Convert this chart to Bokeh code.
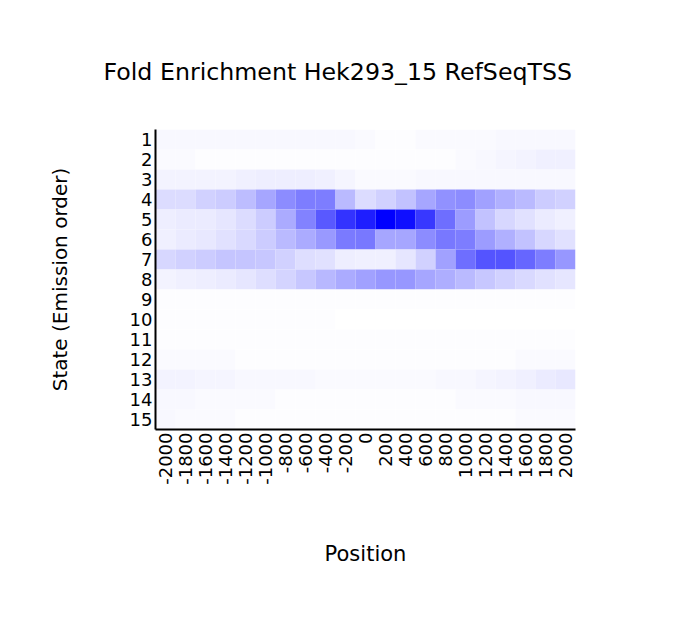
import math
from bokeh.plotting import figure
from bokeh.models import ColumnDataSource, LinearColorMapper, FixedTicker, Range1d
from bokeh.embed import file_html
from bokeh.resources import INLINE

positions = list(range(-2000, 2001, 200))
states = list(range(1, 16))
pos_labels = [str(v) for v in positions]

# Estimated fold-enrichment intensities (0-100 scale), one row per state
state_1 = [3, 3, 3, 3, 3, 3, 3, 3, 3, 3, 2, 1, 1, 2, 2, 2, 2, 3, 3, 3, 3]
state_2 = [2, 2, 1, 1, 1, 1, 1, 1, 1, 1, 1, 1, 1, 1, 1, 2, 3, 4, 5, 6, 6]
state_3 = [5, 5, 5, 5, 6, 7, 7, 7, 6, 4, 2, 2, 2, 3, 3, 3, 3, 3, 3, 3, 3]
state_4 = [14, 14, 18, 20, 26, 35, 45, 51, 51, 27, 14, 18, 24, 35, 43, 45, 37, 31, 27, 20, 18]
state_5 = [7, 8, 8, 10, 14, 20, 33, 49, 65, 80, 88, 100, 94, 78, 57, 39, 24, 16, 12, 8, 6]
state_6 = [6, 8, 9, 12, 15, 20, 27, 33, 40, 52, 53, 35, 35, 45, 53, 51, 39, 31, 24, 16, 12]
state_7 = [16, 18, 20, 23, 23, 22, 18, 13, 12, 7, 6, 6, 10, 18, 37, 57, 67, 67, 60, 51, 41]
state_8 = [5, 6, 7, 8, 10, 13, 17, 22, 28, 33, 37, 41, 41, 35, 32, 27, 22, 18, 15, 12, 10]
state_9 = [1, 1, 1, 1, 1, 1, 1, 1, 1, 1, 1, 1, 1, 1, 1, 1, 1, 1, 1, 1, 1]
state_10 = [1, 1, 1, 1, 1, 1, 1, 1, 1, 0, 0, 0, 0, 0, 0, 0, 0, 0, 0, 0, 0]
state_11 = [1, 1, 1, 1, 1, 1, 1, 1, 1, 1, 1, 1, 1, 1, 1, 1, 1, 1, 1, 1, 1]
state_12 = [2, 2, 2, 2, 1, 1, 1, 1, 1, 1, 1, 1, 1, 1, 1, 1, 1, 1, 2, 2, 2]
state_13 = [5, 5, 4, 4, 3, 3, 3, 3, 2, 2, 2, 2, 2, 2, 3, 3, 4, 5, 6, 8, 9]
state_14 = [3, 3, 2, 2, 2, 2, 1, 1, 1, 1, 1, 1, 1, 1, 1, 2, 2, 2, 3, 3, 3]
state_15 = [3, 2, 2, 2, 1, 1, 1, 1, 1, 1, 1, 1, 1, 1, 1, 1, 1, 1, 2, 2, 2]

rows = [state_1, state_2, state_3, state_4, state_5, state_6, state_7, state_8,
        state_9, state_10, state_11, state_12, state_13, state_14, state_15]

xs, ys, vals = [], [], []
for s, row in zip(states, rows):
    for pos, v in zip(positions, row):
        xs.append(pos)
        ys.append(s)
        vals.append(v)

src = ColumnDataSource(dict(x=xs, y=ys, v=vals))

palette = []
for i in range(256):
    c = round(255 * (1 - i / 255))
    palette.append("#%02x%02x%02x" % (c, c, 255))
mapper = LinearColorMapper(palette=palette, low=0, high=100)

p = figure(width=660, height=600, output_backend="svg", toolbar_location=None,
           x_range=Range1d(-2100, 2100), y_range=Range1d(15.5, 0.5),
           frame_width=420, frame_height=300,
           min_border_left=155, min_border_top=129, min_border_right=85, min_border_bottom=171,
           title="Fold Enrichment Hek293_15 RefSeqTSS")
p.rect(x="x", y="y", width=200, height=1, source=src,
       fill_color={"field": "v", "transform": mapper}, line_color=None)

p.title.text_font = "DejaVu Sans"
p.title.text_font_size = "23.7px"
p.title.text_font_style = "normal"
p.title.text_color = "black"
p.title.align = "left"
p.title.offset = -52
p.title.standoff = 88

p.grid.visible = False
p.outline_line_color = None

p.xaxis.ticker = FixedTicker(ticks=positions)
p.xaxis.major_label_overrides = {pos: lab for pos, lab in zip(positions, pos_labels)}
p.xaxis.major_label_orientation = math.pi / 2
p.yaxis.ticker = FixedTicker(ticks=states)

for ax in (p.xaxis[0], p.yaxis[0]):
    ax.axis_line_width = 2
    ax.axis_line_color = "black"
    ax.major_tick_in = 0
    ax.major_tick_out = 0
    ax.minor_tick_in = 0
    ax.minor_tick_out = 0
    ax.major_label_text_font = "DejaVu Sans"
    ax.major_label_text_font_size = "18px"
    ax.major_label_text_color = "black"
    ax.major_label_standoff = 3
    ax.axis_label_text_font = "DejaVu Sans"
    ax.axis_label_text_font_size = "20px"
    ax.axis_label_text_font_style = "normal"
    ax.axis_label_text_color = "black"

p.xaxis.axis_label = "Position"
p.xaxis.axis_label_text_font_size = "21px"
p.xaxis.axis_label_standoff = 54
p.yaxis.axis_label = "State (Emission order)"
p.yaxis.axis_label_standoff = 55

open("out.html", "w").write(file_html(p, INLINE))
